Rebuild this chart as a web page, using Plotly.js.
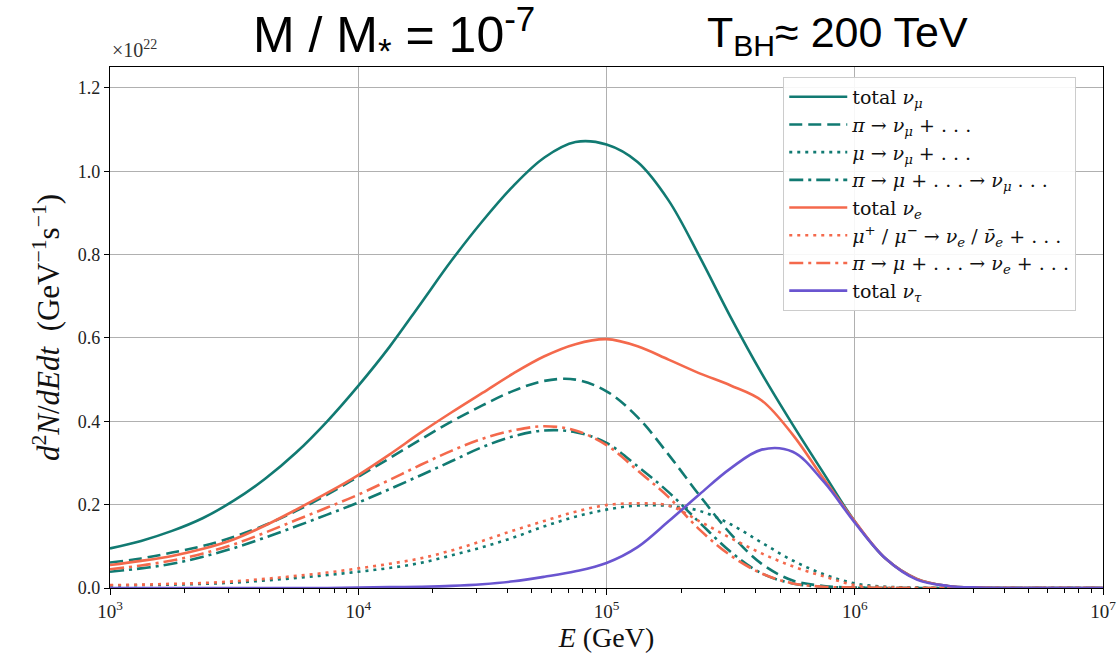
<!DOCTYPE html>
<html><head><meta charset="utf-8">
<script src="https://cdn.plot.ly/plotly-3.0.1.min.js"></script>
<style>html,body{margin:0;padding:0;background:#fff}#chart{width:1117px;height:656px}</style>
</head><body><div id="chart"></div>
<script>
// Energy grid (GeV), 1/8-decade steps from 1e3 to 1e7
const energyGeV = [
  1.000e3, 1.334e3, 1.778e3, 2.371e3, 3.162e3, 4.217e3, 5.623e3, 7.499e3,
  1.000e4, 1.334e4, 1.778e4, 2.371e4, 3.162e4, 4.217e4, 5.623e4, 7.499e4,
  1.000e5, 1.334e5, 1.778e5, 2.371e5, 3.162e5, 4.217e5, 5.623e5, 7.499e5,
  1.000e6, 1.334e6, 1.778e6, 2.371e6, 3.162e6, 4.217e6, 5.623e6, 7.499e6,
  1.000e7];
// Series values (units of 1e22 GeV^-1 s^-1)
const totalNuMu  = [0.095,0.113,0.137,0.168,0.210,0.262,0.325,0.400, 0.485,0.578,0.681,0.785,0.880,0.965,1.033,1.070, 1.064,1.022,0.930,0.795,0.650,0.515,0.392,0.275, 0.160,0.070,0.022,0.005,0.001,0,0,0, 0];
const piToNuMu   = [0.061,0.071,0.085,0.101,0.123,0.151,0.185,0.224, 0.267,0.311,0.356,0.399,0.438,0.473,0.497,0.500, 0.472,0.410,0.320,0.222,0.130,0.058,0.018,0.005, 0.001,0,0,0,0,0,0,0, 0];
const muToNuMu   = [0.006,0.007,0.008,0.010,0.013,0.018,0.024,0.031, 0.039,0.048,0.060,0.078,0.098,0.121,0.148,0.171, 0.188,0.198,0.197,0.185,0.153,0.109,0.066,0.033, 0.011,0.003,0.001,0,0,0,0,0, 0];
const piMuToNuMu = [0.039,0.047,0.058,0.075,0.096,0.121,0.148,0.176, 0.205,0.237,0.270,0.304,0.338,0.364,0.378,0.374, 0.348,0.292,0.230,0.157,0.087,0.035,0.011,0.003, 0.001,0,0,0,0,0,0,0, 0];
const totalNuE   = [0.055,0.065,0.077,0.094,0.117,0.150,0.188,0.228, 0.271,0.320,0.372,0.421,0.468,0.515,0.556,0.585, 0.597,0.580,0.548,0.515,0.486,0.450,0.368,0.262, 0.160,0.070,0.022,0.005,0.001,0,0,0, 0];
const muToNuE    = [0.007,0.008,0.010,0.012,0.016,0.022,0.029,0.037, 0.047,0.058,0.071,0.090,0.113,0.138,0.161,0.183, 0.199,0.203,0.198,0.160,0.120,0.083,0.052,0.028, 0.007,0.002,0,0,0,0,0,0, 0];
const piMuToNuE  = [0.045,0.054,0.066,0.083,0.105,0.133,0.163,0.193, 0.224,0.259,0.295,0.329,0.358,0.378,0.388,0.378, 0.343,0.282,0.218,0.140,0.078,0.035,0.011,0.003, 0.001,0,0,0,0,0,0,0, 0];
const totalNuTau = [0,0,0,0,0,0,0,0, 0.001,0.002,0.003,0.005,0.009,0.016,0.027,0.040, 0.060,0.098,0.160,0.225,0.287,0.332,0.327,0.255, 0.157,0.070,0.020,0.005,0.001,0,0,0, 0];

const seriesLabels = [
  'total <i>ν</i><sub><i>μ</i></sub>',
  '<i>π</i> → <i>ν</i><sub><i>μ</i></sub> + . . .',
  '<i>μ</i> → <i>ν</i><sub><i>μ</i></sub> + . . .',
  '<i>π</i> → <i>μ</i> + . . . → <i>ν</i><sub><i>μ</i></sub> . . .',
  'total <i>ν</i><sub><i>e</i></sub>',
  '<i>μ</i><sup>+</sup> / <i>μ</i><sup>−</sup> → <i>ν</i><sub><i>e</i></sub> / <i>ν̄</i><sub><i>e</i></sub> + . . .',
  '<i>π</i> → <i>μ</i> + . . . → <i>ν</i><sub><i>e</i></sub> + . . .',
  'total <i>ν</i><sub><i>τ</i></sub>'
];
const xTickVals = [1e3, 1e4, 1e5, 1e6, 1e7];
const xTickText = ['10<sup>3</sup>','10<sup>4</sup>','10<sup>5</sup>','10<sup>6</sup>','10<sup>7</sup>'];
const yTickVals = [0, 0.2, 0.4, 0.6, 0.8, 1.0, 1.2];
const yTickText = ['0.0','0.2','0.4','0.6','0.8','1.0','1.2'];

const TEAL = '#117a72', ORANGE = '#f4694c', PURPLE = '#6a55d0';
const DASH = '13px,6px', DOT = '3px,5px', DASHDOT = '14px,5px,3px,5px';

const seriesData = [totalNuMu, piToNuMu, muToNuMu, piMuToNuMu, totalNuE, muToNuE, piMuToNuE, totalNuTau];
const seriesStyle = [
  {color: TEAL, dash: 'solid'}, {color: TEAL, dash: DASH}, {color: TEAL, dash: DOT}, {color: TEAL, dash: DASHDOT},
  {color: ORANGE, dash: 'solid'}, {color: ORANGE, dash: DOT}, {color: ORANGE, dash: DASHDOT},
  {color: PURPLE, dash: 'solid'}
];

const traces = seriesData.map((ys, i) => ({
  x: energyGeV, y: ys, type: 'scatter', mode: 'lines', name: seriesLabels[i],
  line: {color: seriesStyle[i].color, dash: seriesStyle[i].dash, width: 2.6, shape: 'spline', smoothing: 1}
}));

const minorVals = [];
for (let d = 3; d < 7; d++) for (let m = 2; m <= 9; m++) minorVals.push(m * Math.pow(10, d));

const SERIF = 'Liberation Serif, Times New Roman, serif';
const LEGSERIF = 'DejaVu Serif, Liberation Serif, serif';
const SANS = 'Liberation Sans, Arial, sans-serif';
const layout = {
  width: 1117, height: 656,
  margin: {l: 110, r: 14, t: 67, b: 68},
  paper_bgcolor: '#fff', plot_bgcolor: '#fff',
  showlegend: true,
  font: {family: SERIF, color: '#000'},
  xaxis: {
    type: 'log', range: [3, 7], tickmode: 'array', tickvals: xTickVals, ticktext: xTickText,
    ticks: 'outside', ticklen: 6, tickwidth: 1, tickcolor: '#000',
    showgrid: true, gridcolor: '#b0b0b0', gridwidth: 1,
    showline: true, linecolor: '#000', linewidth: 1.2, mirror: true, zeroline: false,
    tickfont: {family: SERIF, size: 19, color: '#222'},
    minor: {tickmode: 'array', tickvals: minorVals, ticks: 'outside', ticklen: 3.5, tickcolor: '#000', showgrid: false},
    title: {text: '<i>E</i> (GeV)', font: {family: SERIF, size: 28, color: '#111'}, standoff: 6}
  },
  yaxis: {
    range: [0, 1.25], tickmode: 'array', tickvals: yTickVals, ticktext: yTickText,
    ticks: 'outside', ticklen: 5, tickwidth: 1, tickcolor: '#000',
    showgrid: true, gridcolor: '#b0b0b0', gridwidth: 1,
    showline: true, linecolor: '#000', linewidth: 1.2, mirror: true, zeroline: false,
    tickfont: {family: SERIF, size: 18, color: '#222'},
    title: {text: '<i>d</i><sup>2</sup><i>N</i>/<i>dEdt</i>  (GeV<sup>−1</sup>s<sup>−1</sup>)', font: {family: SERIF, size: 31, color: '#111'}, standoff: 8}
  },
  legend: {
    x: 0.678, y: 0.981, xanchor: 'left', yanchor: 'top',
    bgcolor: 'rgba(255,255,255,0.9)', bordercolor: '#cccccc', borderwidth: 1,
    font: {family: LEGSERIF, size: 19, color: '#111'}, tracegroupgap: 0, itemwidth: 58
  },
  annotations: [
    {text: 'M / M<sub>*</sub> = 10<sup>-7</sup>', xref: 'paper', yref: 'paper', x: 0.286, y: 1.062,
     xanchor: 'center', yanchor: 'middle', showarrow: false,
     font: {family: SANS, size: 50, color: '#000'}},
    {text: 'T<sub>BH</sub>≈ 200 TeV', xref: 'paper', yref: 'paper', x: 0.733, y: 1.062,
     xanchor: 'center', yanchor: 'middle', showarrow: false,
     font: {family: SANS, size: 43, color: '#000'}},
    {text: '×10<sup>22</sup>', xref: 'paper', yref: 'paper', x: 0, y: 1.008,
     xanchor: 'left', yanchor: 'bottom', showarrow: false,
     font: {family: SERIF, size: 20, color: '#333'}}
  ]
};

Plotly.newPlot('chart', traces, layout, {displayModeBar: false, responsive: false});
</script>
</body></html>
